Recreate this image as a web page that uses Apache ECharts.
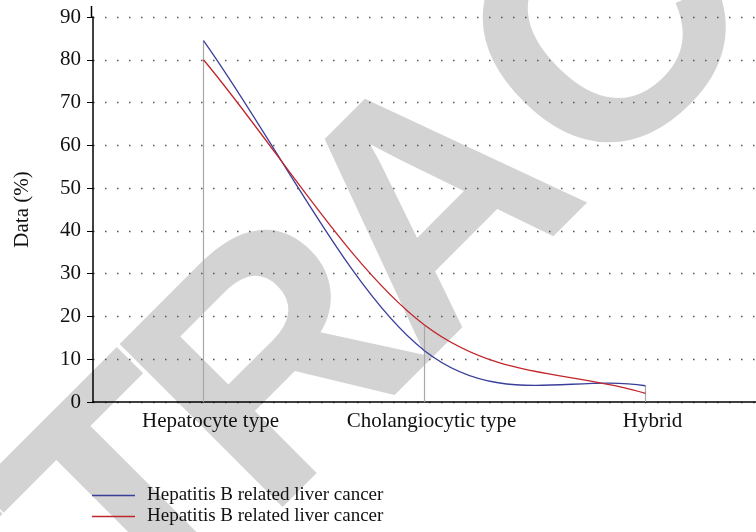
<!DOCTYPE html>
<html>
<head>
<meta charset="utf-8">
<script src="https://cdn.jsdelivr.net/npm/echarts@6/dist/echarts.min.js"></script>
<style>
  html, body { margin: 0; padding: 0; background: #fff; }
  #main { width: 756px; height: 532px; }
</style>
</head>
<body>
<div id="main"></div>
<script>
// 数据
var categories = ['Hepatocyte type', 'Cholangiocytic type', 'Hybrid']
var seriesNames = ['Hepatitis B related liver cancer', 'Hepatitis B related liver cancer']
var blueValues = [84.5, 12, 3.8]
var redValues = [80, 18, 2]
var yTicks = [0, 10, 20, 30, 40, 50, 60, 70, 80, 90]

var serif = '"Liberation Serif", "DejaVu Serif", serif'
var BLUE = '#3a3f9c'
var RED = '#c0262c'

// 竖线 = 每个类别的最大值
var dropValues = blueValues.map(function (v, i) {
    return Math.max(v, redValues[i])
})

// 平滑曲线 (Catmull-Rom), 通过坐标轴换算像素
function makeCurve(values, color) {
    return function (params, api) {
        if (params.dataIndex !== 0) return null
        var pts = values.map(function (v, i) {
            return api.coord([i, v])
        })
        var n = pts.length
        var tan = pts.map(function (p, i) {
            var a = pts[Math.max(i - 1, 0)]
            var b = pts[Math.min(i + 1, n - 1)]
            var k = (i === 0 || i === n - 1) ? 1 : 0.5
            return [(b[0] - a[0]) * k, (b[1] - a[1]) * k]
        })
        var children = []
        for (var i = 0; i < n - 1; i++) {
            children.push({
                type: 'bezierCurve',
                shape: {
                    x1: pts[i][0], y1: pts[i][1],
                    x2: pts[i + 1][0], y2: pts[i + 1][1],
                    cpx1: pts[i][0] + tan[i][0] / 3,
                    cpy1: pts[i][1] + tan[i][1] / 3,
                    cpx2: pts[i + 1][0] - tan[i + 1][0] / 3,
                    cpy2: pts[i + 1][1] - tan[i + 1][1] / 3
                },
                style: { stroke: color, lineWidth: 1.3, fill: null }
            })
        }
        return { type: 'group', children: children }
    }
}

function toData(values) {
    return values.map(function (v, i) { return [i, v] })
}

// 水印 RETRACTED, 逐字排列
function watermark() {
    var text = 'RETRACTED'
    var font = 'bold 335px "Liberation Sans", Arial, sans-serif'
    var cx = 442.5, cy = 216.5, ang = Math.PI / 4
    var ctx = document.createElement('canvas').getContext('2d')
    ctx.font = font
    var adv = text.split('').map(function (c) { return ctx.measureText(c).width })
    var total = adv.reduce(function (a, b) { return a + b }, 0)
    var mid = Math.floor(text.length / 2)
    var s = -total / 2
    var els = []
    for (var i = 0; i < text.length; i++) {
        var d = i - mid
        var p = s + d * (d < 0 ? -22 : 4)
        els.push({
            type: 'text',
            z: -10,
            silent: true,
            x: cx + p * Math.cos(ang),
            y: cy - p * Math.sin(ang),
            rotation: ang,
            style: {
                text: text[i],
                font: font,
                fill: '#d3d3d3',
                align: 'left',
                verticalAlign: 'middle'
            }
        })
        s += adv[i]
    }
    return els
}

var chart = echarts.init(document.getElementById('main'))

var option = {
    backgroundColor: '#fff',
    animation: false,
    grid: {
        left: 93,
        top: 17,
        width: 672,
        bottom: 130
    },
    legend: {
        orient: 'vertical',
        left: 92,
        top: 486,
        padding: 0,
        icon: 'rect',
        itemWidth: 43,
        itemHeight: 1.5,
        itemGap: 2,
        data: [seriesNames[0] + '#0', seriesNames[1] + '#1'],
        formatter: function (name) {
            return name.replace(/#\d+$/, '')
        },
        textStyle: {
            fontFamily: serif,
            fontSize: 19,
            lineHeight: 19,
            color: '#111',
            padding: [0, 0, 0, 7]
        }
    },
    xAxis: {
        type: 'category',
        data: categories,
        boundaryGap: true,
        axisLine: { lineStyle: { color: '#000', width: 1.5 } },
        axisTick: { show: false },
        axisLabel: {
            margin: 9,
            fontFamily: serif,
            fontSize: 21,
            color: '#111',
            padding: [0, 0, 0, 14]
        },
        splitLine: { show: false }
    },
    yAxis: {
        type: 'value',
        min: yTicks[0],
        max: yTicks[yTicks.length - 1],
        interval: 10,
        name: 'Data (%)',
        nameLocation: 'middle',
        nameGap: 60,
        nameTextStyle: {
            fontFamily: serif,
            fontSize: 21,
            color: '#111'
        },
        axisLine: { show: true, lineStyle: { color: '#000', width: 1.5 } },
        axisTick: { show: true, length: 6, lineStyle: { color: '#000' } },
        axisLabel: {
            margin: 12,
            fontFamily: serif,
            fontSize: 21,
            color: '#111'
        },
        splitLine: {
            show: true,
            lineStyle: { color: '#555', width: 1.4, type: [1.5, 10.5] }
        }
    },
    series: [{
        name: 'drop',
        type: 'bar',
        data: dropValues,
        barWidth: 1.2,
        silent: true,
        z: 1,
        itemStyle: { color: '#a8a8a8' }
    }, {
        name: seriesNames[0] + '#0',
        type: 'custom',
        data: toData(blueValues),
        encode: { x: 0, y: 1 },
        renderItem: makeCurve(blueValues, BLUE),
        z: 3,
        itemStyle: { color: BLUE }
    }, {
        name: seriesNames[1] + '#1',
        type: 'custom',
        data: toData(redValues),
        encode: { x: 0, y: 1 },
        renderItem: makeCurve(redValues, RED),
        z: 4,
        itemStyle: { color: RED }
    }]
}
chart.setOption(option)

// y轴顶端稍微超出 90
var topY = chart.convertToPixel({ yAxisIndex: 0 }, yTicks[yTicks.length - 1])
var axisX = chart.convertToPixel({ xAxisIndex: 0 }, 0) - 672 / 6
chart.setOption({
    graphic: watermark().concat([{
        type: 'line',
        silent: true,
        shape: { x1: axisX, y1: topY - 11, x2: axisX, y2: topY },
        style: { stroke: '#000', lineWidth: 1.5 }
    }])
})
</script>
</body>
</html>
